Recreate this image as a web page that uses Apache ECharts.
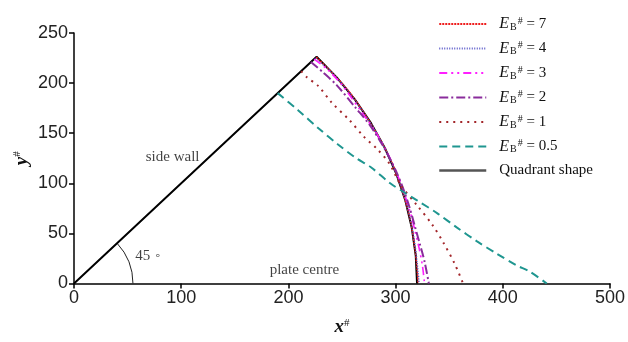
<!DOCTYPE html>
<html><head><meta charset="utf-8">
<script src="https://cdn.jsdelivr.net/npm/echarts@6/dist/echarts.min.js"></script>
<style>html,body{margin:0;padding:0;background:#fff}#c{width:628px;height:342px}</style>
</head><body><div id="c"></div>
<script>
// ---- data ----
const xTicks = [0, 100, 200, 300, 400, 500];
const yTicks = [0, 50, 100, 150, 200, 250];
const legendValues = ['7', '4', '3', '2', '1', '0.5'];
const e7 = [[226,226],[242,209],[257,191],[272,168],[286,143],[298,117],[307,90],[314,62],[318,35],[320,15],[321,0]];
const e4 = [[225,225],[240,211],[255,193],[270,171],[284,147],[296,121],[305,97],[312,72],[317,46],[320,22],[322,0]];
const e3 = [[224,224],[236,214],[250,198],[269,170],[282,150],[294,127],[303,105],[309,87],[314,70],[318,53],[322,35],[325,18],[327,0]];
const e2 = [[221,221],[232,211],[245,198],[263,175],[276,158],[289,136],[300,113],[307,95],[313,76],[318,57],[323,38],[327,22],[331,0]];
const e1 = [[212,212],[217,206],[228,197],[240,181],[257,163],[270,147],[283,134],[294,120],[305,98],[320,78],[334,59],[345,40],[355,20],[363,0]];
const e05 = [[190,190],[209,173],[228,155],[246,139],[262,126],[277,116],[295,100],[308,91],[320,83],[339,70],[357,56],[376,42],[394,30],[413,18],[425,12],[441,0]];
const quadrant = [[0,0],[226.3,226.3],[245.1,205.7],[262.1,183.5],[277.1,160],[290,135.2],[300.7,109.4],[309.1,82.8],[315.1,55.6],[318.8,27.9],[320,0]];
const annotations = [
  {text: 'side wall', x: 92, y: 126},
  {text: '{a|45 }{o|∘}', x: 69, y: 27},
  {text: 'plate centre', x: 215, y: 13.5}
];
const angleArc = {radius: 55, wall: [226.3, 226.3]};

// ---- chart ----
const chart = echarts.init(document.getElementById('c'), null, {renderer: 'canvas'});
const serif = '"Liberation Serif", "Times New Roman", serif';
const sans = '"Liberation Sans", Arial, sans-serif';

const curveDefs = [
  {name: 'E7', data: e7, color: '#ee1c1c', type: [2, 1], width: 1.5},
  {name: 'E4', data: e4, color: '#5656c8', type: [1, 1.5], width: 1.5},
  {name: 'E3', data: e3, color: '#ff1eff', type: [8, 4, 2, 4, 2, 4], width: 1.6},
  {name: 'E2', data: e2, color: '#8a2c9c', type: [9, 3, 2, 3], width: 2},
  {name: 'E1', data: e1, color: '#a3262a', type: [2, 5], width: 2},
  {name: 'E05', data: e05, color: '#1f9690', type: [8, 5], width: 2}
];
const labelMap = {E7: '7', E4: '4', E3: '3', E2: '2', E1: '1', E05: '0.5'};

const series = curveDefs.map(d => ({
  name: d.name, type: 'line', data: d.data, showSymbol: false, symbol: 'none',
  smooth: 0.3, lineStyle: {color: d.color, width: d.width, type: d.type},
  itemStyle: {color: d.color}, z: 3
}));
series.push({
  name: 'Quadrant shape', type: 'line', data: quadrant, symbol: 'none', showSymbol: false,
  smooth: false, lineStyle: {color: '#000', width: 2}, itemStyle: {color: '#555'}, z: 2
});
series.push({
  name: 'arc', type: 'custom', silent: true, z: 2,
  data: [[0, 0]],
  renderItem: function (params, api) {
    const c = api.coord([0, 0]);
    const r = api.coord([angleArc.radius, 0])[0] - c[0];
    const w = api.coord(angleArc.wall);
    const a = Math.atan2(w[1] - c[1], w[0] - c[0]);
    return {type: 'arc', shape: {cx: c[0], cy: c[1], r: r, startAngle: a, endAngle: 0, clockwise: true},
      style: {stroke: '#222', fill: null, lineWidth: 1}};
  }
});
series.push({
  name: 'notes', type: 'scatter', symbolSize: 0, silent: true, z: 4,
  data: annotations.map(a => ({value: [a.x, a.y], text: a.text})),
  itemStyle: {color: 'transparent'},
  label: {
    show: true, position: [0, 0], align: 'center', verticalAlign: 'middle',
    formatter: p => p.data.text,
    fontFamily: serif, fontSize: 15, color: '#111',
    rich: {a: {fontFamily: serif, fontSize: 15, color: '#111'}, o: {fontFamily: '"DejaVu Sans", serif', fontSize: 11, color: '#333'}}
  }
});

const legendRich = {
  e: {fontFamily: serif, fontStyle: 'italic', fontSize: 16, color: '#111', lineHeight: 16, padding: [0, 0, 0, 8]},
  b: {fontFamily: serif, fontSize: 10, color: '#111', verticalAlign: 'bottom', lineHeight: 16, padding: [0, 1, 0, 1]},
  s: {fontFamily: serif, fontSize: 10, color: '#111', verticalAlign: 'top', lineHeight: 16, padding: [0, 0, 6, 0]},
  t: {fontFamily: serif, fontSize: 15, color: '#111', lineHeight: 16},
  q: {fontFamily: serif, fontSize: 15, color: '#111', lineHeight: 16, padding: [0, 0, 0, 8]}
};

chart.setOption({
  animation: false,
  backgroundColor: '#fff',
  grid: {left: 74, right: 14, top: 33, bottom: 51},
  legend: {
    orient: 'vertical', left: 433, top: 11,
    itemWidth: 47, itemHeight: 14, itemGap: 8.5,
    itemStyle: {opacity: 0},
    data: ['E7', 'E4', 'E3', 'E2', 'E1', 'E05',
      {name: 'Quadrant shape', lineStyle: {color: '#555', width: 2.5}}],
    formatter: function (name) {
      if (name === 'Quadrant shape') return '{q|Quadrant shape}';
      return '{e|E}{b|B}{s|#}{t| = ' + labelMap[name] + '}';
    },
    textStyle: {rich: legendRich}
  },
  xAxis: {
    type: 'value', min: xTicks[0], max: xTicks[xTicks.length - 1], interval: xTicks[1] - xTicks[0],
    splitLine: {show: false},
    axisLine: {show: true, onZero: false, lineStyle: {color: '#000', width: 1.5}},
    axisTick: {show: true, length: 5, lineStyle: {color: '#000', width: 1.5}},
    axisLabel: {fontFamily: sans, fontSize: 18, color: '#222', margin: 6},
    name: '{x|x}{s|#}', nameLocation: 'middle', nameGap: 34,
    nameTextStyle: {rich: {
      x: {fontFamily: serif, fontStyle: 'italic', fontWeight: 'bold', fontSize: 19, color: '#111', lineHeight: 20},
      s: {fontFamily: serif, fontSize: 11, color: '#111', verticalAlign: 'top', lineHeight: 20}
    }}
  },
  yAxis: {
    type: 'value', min: yTicks[0], max: yTicks[yTicks.length - 1], interval: yTicks[1] - yTicks[0],
    splitLine: {show: false},
    axisLine: {show: true, onZero: false, lineStyle: {color: '#000', width: 1.5}},
    axisTick: {show: true, length: 5, lineStyle: {color: '#000', width: 1.5}},
    axisLabel: {fontFamily: sans, fontSize: 18, color: '#222', margin: 6},
    name: '{y|y}{s|#}', nameLocation: 'middle', nameGap: 42, nameRotate: 90, nameMoveOverlap: false,
    nameTextStyle: {rich: {
      y: {fontFamily: serif, fontStyle: 'italic', fontWeight: 'bold', fontSize: 19, color: '#111', lineHeight: 20},
      s: {fontFamily: serif, fontSize: 11, color: '#111', verticalAlign: 'top', lineHeight: 20}
    }}
  },
  series: series
});
</script>
</body></html>
